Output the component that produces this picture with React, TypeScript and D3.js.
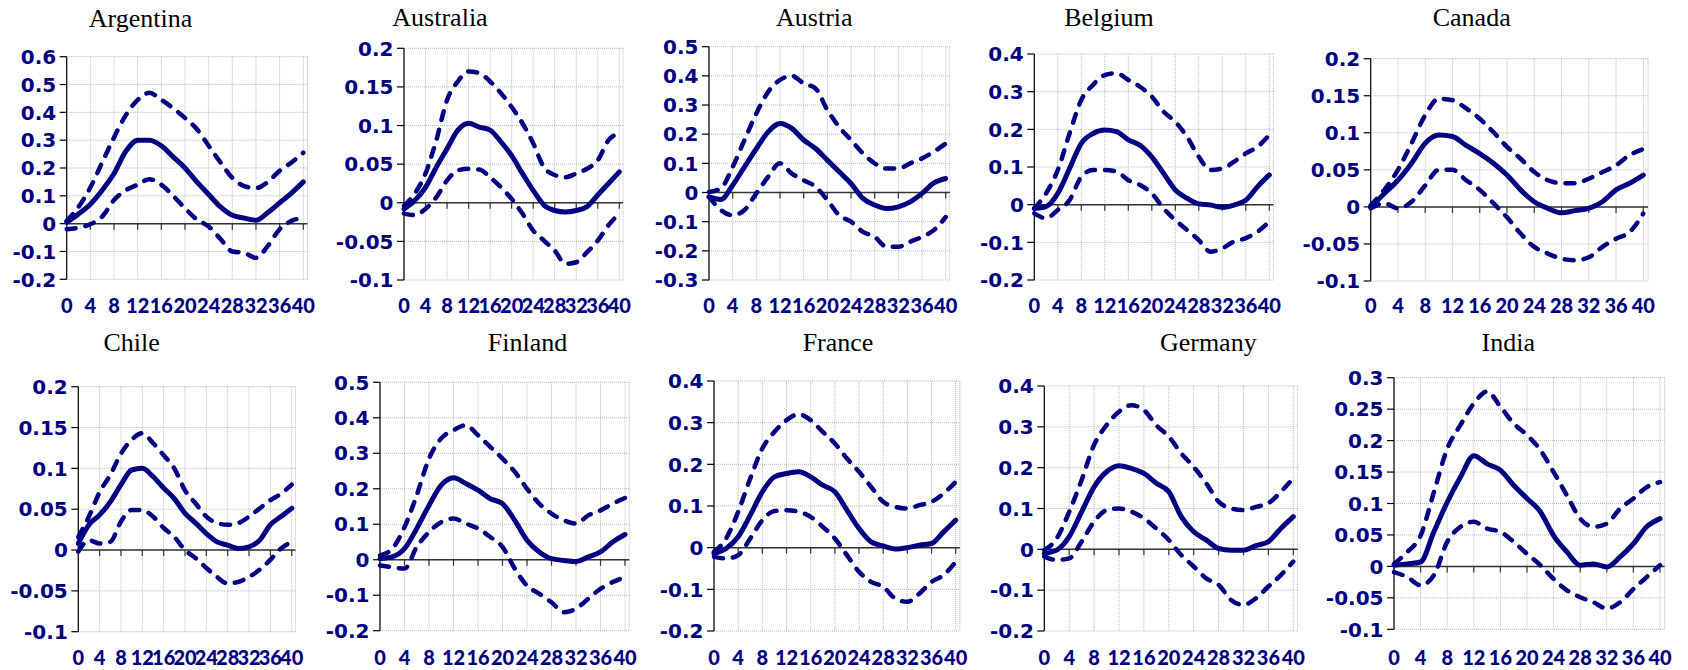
import React from 'react';
import * as d3 from 'd3';

// ---------- data ----------
const HORIZON = [0, 2, 4, 6, 8, 10, 12, 14, 16, 18, 20, 22, 24, 26, 28, 30, 32, 34, 36, 38, 40];
const X_TICKS = [0, 4, 8, 12, 16, 20, 24, 28, 32, 36, 40];

const COUNTRIES = ['Argentina', 'Australia', 'Austria', 'Belgium', 'Canada', 'Chile', 'Finland', 'France', 'Germany', 'India'];
const Y_MIN = [-0.2, -0.1, -0.3, -0.2, -0.1, -0.1, -0.2, -0.2, -0.2, -0.1];
const Y_MAX = [0.6, 0.2, 0.5, 0.4, 0.2, 0.2, 0.5, 0.4, 0.4, 0.3];
const Y_STEP = [0.1, 0.05, 0.1, 0.1, 0.05, 0.05, 0.1, 0.1, 0.1, 0.05];

const argentinaMid = [0.005, 0.035, 0.07, 0.12, 0.18, 0.26, 0.3, 0.3, 0.28, 0.24, 0.2, 0.15, 0.105, 0.06, 0.03, 0.02, 0.012, 0.04, 0.075, 0.11, 0.15];
const argentinaUp = [0.01, 0.06, 0.13, 0.22, 0.31, 0.39, 0.445, 0.47, 0.445, 0.415, 0.38, 0.34, 0.28, 0.22, 0.165, 0.135, 0.128, 0.15, 0.19, 0.22, 0.255];
const argentinaLo = [-0.02, -0.015, -0.002, 0.025, 0.085, 0.12, 0.14, 0.16, 0.14, 0.1, 0.055, 0.015, -0.01, -0.055, -0.1, -0.105, -0.123, -0.08, -0.02, 0.01, 0.02];

const australiaMid = [-0.008, 0.003, 0.02, 0.046, 0.07, 0.094, 0.103, 0.098, 0.094, 0.079, 0.061, 0.038, 0.016, -0.003, -0.01, -0.012, -0.01, -0.005, 0.01, 0.025, 0.04];
const australiaUp = [-0.004, 0.012, 0.038, 0.081, 0.133, 0.157, 0.17, 0.168, 0.157, 0.142, 0.124, 0.103, 0.077, 0.046, 0.036, 0.033, 0.038, 0.044, 0.055, 0.081, 0.09];
const australiaLo = [-0.014, -0.016, -0.008, 0.007, 0.029, 0.042, 0.044, 0.043, 0.033, 0.02, 0.005, -0.014, -0.036, -0.049, -0.062, -0.079, -0.077, -0.064, -0.049, -0.029, -0.014];

const austriaMid = [-0.015, -0.024, 0.025, 0.088, 0.15, 0.208, 0.237, 0.22, 0.18, 0.151, 0.111, 0.071, 0.031, -0.02, -0.043, -0.055, -0.049, -0.032, -0.003, 0.033, 0.048];
const austriaUp = [0.002, 0.014, 0.088, 0.18, 0.271, 0.345, 0.386, 0.4, 0.374, 0.357, 0.283, 0.225, 0.18, 0.134, 0.1, 0.082, 0.082, 0.1, 0.117, 0.14, 0.168];
const austriaLo = [-0.015, -0.06, -0.078, -0.06, -0.003, 0.054, 0.1, 0.065, 0.042, 0.02, -0.026, -0.078, -0.1, -0.135, -0.152, -0.186, -0.186, -0.169, -0.152, -0.129, -0.084];

const belgiumMid = [-0.01, -0.005, 0.03, 0.096, 0.163, 0.189, 0.198, 0.194, 0.172, 0.158, 0.127, 0.083, 0.039, 0.017, 0.002, -0.001, -0.007, -0.001, 0.012, 0.048, 0.079];
const belgiumUp = [-0.01, 0.03, 0.092, 0.189, 0.278, 0.318, 0.344, 0.349, 0.331, 0.313, 0.287, 0.247, 0.22, 0.18, 0.127, 0.092, 0.096, 0.114, 0.136, 0.154, 0.185];
const belgiumLo = [-0.023, -0.036, -0.014, 0.012, 0.074, 0.092, 0.092, 0.088, 0.065, 0.052, 0.03, -0.01, -0.041, -0.067, -0.094, -0.125, -0.116, -0.098, -0.089, -0.072, -0.045];

const canadaMid = [0.0, 0.018, 0.036, 0.059, 0.086, 0.097, 0.095, 0.083, 0.072, 0.059, 0.043, 0.023, 0.007, -0.002, -0.008, -0.005, -0.002, 0.007, 0.023, 0.032, 0.043];
const canadaUp = [0.002, 0.023, 0.05, 0.086, 0.124, 0.146, 0.144, 0.133, 0.119, 0.101, 0.081, 0.065, 0.047, 0.036, 0.032, 0.032, 0.038, 0.047, 0.056, 0.07, 0.078];
const canadaLo = [-0.002, 0.005, -0.002, 0.007, 0.029, 0.05, 0.05, 0.036, 0.023, 0.005, -0.014, -0.036, -0.054, -0.063, -0.07, -0.072, -0.068, -0.054, -0.043, -0.034, -0.009];

const chileMid = [0.008, 0.031, 0.043, 0.059, 0.08, 0.098, 0.1, 0.09, 0.076, 0.063, 0.045, 0.033, 0.02, 0.01, 0.006, 0.002, 0.004, 0.012, 0.031, 0.041, 0.051];
const chileUp = [0.016, 0.041, 0.071, 0.092, 0.118, 0.135, 0.143, 0.131, 0.116, 0.1, 0.073, 0.057, 0.041, 0.033, 0.031, 0.033, 0.041, 0.051, 0.061, 0.069, 0.08];
const chileLo = [-0.002, 0.012, 0.008, 0.01, 0.035, 0.049, 0.049, 0.041, 0.027, 0.016, 0.0, -0.01, -0.022, -0.033, -0.041, -0.039, -0.033, -0.024, -0.012, 0.002, 0.01];

const finlandMid = [0.003, 0.008, 0.031, 0.088, 0.153, 0.21, 0.231, 0.215, 0.196, 0.172, 0.158, 0.111, 0.055, 0.022, 0.003, -0.002, -0.005, 0.008, 0.022, 0.05, 0.071];
const finlandUp = [0.012, 0.031, 0.092, 0.182, 0.285, 0.342, 0.365, 0.379, 0.351, 0.318, 0.285, 0.248, 0.2, 0.158, 0.13, 0.111, 0.102, 0.125, 0.139, 0.158, 0.174];
const finlandLo = [-0.016, -0.021, -0.025, 0.036, 0.078, 0.106, 0.116, 0.102, 0.088, 0.064, 0.036, -0.025, -0.073, -0.096, -0.12, -0.148, -0.138, -0.11, -0.082, -0.063, -0.049];

const franceMid = [-0.014, -0.002, 0.026, 0.078, 0.134, 0.17, 0.178, 0.182, 0.17, 0.15, 0.134, 0.09, 0.046, 0.014, 0.004, -0.003, 0.0, 0.006, 0.01, 0.038, 0.066];
const franceUp = [-0.01, 0.022, 0.086, 0.166, 0.238, 0.278, 0.306, 0.32, 0.306, 0.278, 0.25, 0.214, 0.182, 0.146, 0.11, 0.098, 0.094, 0.102, 0.11, 0.13, 0.158];
const franceLo = [-0.022, -0.026, -0.018, 0.022, 0.066, 0.088, 0.09, 0.086, 0.074, 0.05, 0.022, -0.018, -0.058, -0.082, -0.094, -0.122, -0.13, -0.11, -0.082, -0.066, -0.034];

const germanyMid = [-0.01, -0.002, 0.031, 0.092, 0.153, 0.19, 0.205, 0.198, 0.186, 0.162, 0.141, 0.08, 0.043, 0.023, 0.002, -0.002, -0.002, 0.009, 0.019, 0.051, 0.08];
const germanyUp = [-0.002, 0.027, 0.092, 0.17, 0.256, 0.304, 0.337, 0.353, 0.341, 0.304, 0.276, 0.235, 0.202, 0.162, 0.117, 0.1, 0.096, 0.104, 0.113, 0.141, 0.174];
const germanyLo = [-0.018, -0.026, -0.022, 0.019, 0.068, 0.096, 0.1, 0.092, 0.076, 0.051, 0.023, -0.014, -0.042, -0.071, -0.087, -0.124, -0.136, -0.12, -0.091, -0.063, -0.03];

const indiaMid = [0.002, 0.004, 0.007, 0.055, 0.102, 0.142, 0.176, 0.163, 0.153, 0.129, 0.108, 0.087, 0.049, 0.023, 0.002, 0.004, -0.001, 0.015, 0.036, 0.063, 0.076];
const indiaUp = [0.004, 0.023, 0.049, 0.118, 0.187, 0.225, 0.259, 0.278, 0.254, 0.227, 0.209, 0.185, 0.15, 0.113, 0.076, 0.063, 0.068, 0.092, 0.108, 0.126, 0.134];
const indiaLo = [-0.009, -0.017, -0.03, -0.014, 0.039, 0.063, 0.071, 0.06, 0.055, 0.039, 0.02, 0.002, -0.02, -0.038, -0.049, -0.057, -0.067, -0.057, -0.036, -0.017, 0.002];

const SERIES = [
  [argentinaMid, argentinaUp, argentinaLo],
  [australiaMid, australiaUp, australiaLo],
  [austriaMid, austriaUp, austriaLo],
  [belgiumMid, belgiumUp, belgiumLo],
  [canadaMid, canadaUp, canadaLo],
  [chileMid, chileUp, chileLo],
  [finlandMid, finlandUp, finlandLo],
  [franceMid, franceUp, franceLo],
  [germanyMid, germanyUp, germanyLo],
  [indiaMid, indiaUp, indiaLo],
];

// ---------- layout (pixels) ----------
const LAYOUT = [
  { x0: 66.7, x40: 303.3, top: 56.7, bottom: 279.3, titleX: 140.5, titleY: 27, labelY: 313 },
  { x0: 404, x40: 619.3, top: 48.3, bottom: 280, titleX: 440, titleY: 26, labelY: 313 },
  { x0: 709, x40: 945.7, top: 46.7, bottom: 280, titleX: 814.3, titleY: 26, labelY: 313 },
  { x0: 1034.3, x40: 1269.3, top: 54, bottom: 280, titleX: 1109, titleY: 26, labelY: 313 },
  { x0: 1370.7, x40: 1643.3, top: 58.7, bottom: 281, titleX: 1471.7, titleY: 26, labelY: 313 },
  { x0: 78.3, x40: 291.7, top: 386.7, bottom: 631.7, titleX: 131.7, titleY: 351, labelY: 665 },
  { x0: 380, x40: 625, top: 382.3, bottom: 630.7, titleX: 527.5, titleY: 351, labelY: 665 },
  { x0: 714, x40: 955.7, top: 381, bottom: 631, titleX: 838, titleY: 351, labelY: 665 },
  { x0: 1044.3, x40: 1293.3, top: 386, bottom: 631, titleX: 1208.3, titleY: 351, labelY: 665 },
  { x0: 1394, x40: 1660, top: 377.7, bottom: 629.3, titleX: 1508.3, titleY: 351, labelY: 665 },
];

const NAVY = '#000080';
const Y_FONT = '"DejaVu Sans", sans-serif';
const X_FONT = 'Lato, "DejaVu Sans", sans-serif';
const TITLE_FONT = '"Liberation Serif", "Times New Roman", serif';

function fmt(v: number): string {
  const r = +v.toFixed(2);
  return r === 0 ? '0' : String(r);
}

function Panel({ idx }: { idx: number }) {
  const L = LAYOUT[idx];
  const x = d3.scaleLinear().domain([0, 40]).range([L.x0, L.x40]);
  const y = d3.scaleLinear().domain([Y_MIN[idx], Y_MAX[idx]]).range([L.bottom, L.top]);
  const xRight = x(40.7);
  const step = Y_STEP[idx];
  const nTicks = Math.round((Y_MAX[idx] - Y_MIN[idx]) / step);
  const yTicks = d3.range(nTicks + 1).map((i) => +(Y_MIN[idx] + i * step).toFixed(3));
  const [mid, up, lo] = SERIES[idx];
  const line = d3
    .line<number>()
    .x((_, i) => x(HORIZON[i]))
    .y((d) => y(d))
    .curve(d3.curveMonotoneX);

  return (
    <g>
      <text x={L.titleX} y={L.titleY} textAnchor="middle" fontFamily={TITLE_FONT} fontSize={26} fill="#000">
        {COUNTRIES[idx]}
      </text>
      {/* gridlines */}
      {yTicks.map((t) => (
        <line key={'gy' + t} x1={L.x0} x2={xRight} y1={y(t)} y2={y(t)} stroke="#b8b8b8" strokeWidth={1} strokeDasharray="1,1" />
      ))}
      {X_TICKS.map((t) => (
        <line key={'gx' + t} x1={x(t)} x2={x(t)} y1={L.top} y2={L.bottom} stroke="#b8b8b8" strokeWidth={1} strokeDasharray="1,1" />
      ))}
      <line x1={xRight} x2={xRight} y1={L.top} y2={L.bottom} stroke="#b8b8b8" strokeWidth={1} strokeDasharray="1,1" />
      {/* y axis */}
      <line x1={L.x0} x2={L.x0} y1={L.top} y2={L.bottom} stroke="#000" strokeWidth={1.2} />
      {yTicks.map((t) => (
        <g key={'yt' + t}>
          <line x1={L.x0 - 7} x2={L.x0} y1={y(t)} y2={y(t)} stroke="#000" strokeWidth={1.2} />
          <text
            x={L.x0 - 10.5}
            y={y(t)}
            dy="0.36em"
            textAnchor="end"
            fontFamily={Y_FONT}
            fontWeight="bold"
            fontSize={20}
            fill={NAVY}
          >
            {fmt(t)}
          </text>
        </g>
      ))}
      {/* x axis at zero */}
      <line x1={L.x0} x2={xRight} y1={y(0)} y2={y(0)} stroke="#333" strokeWidth={1.5} />
      {X_TICKS.map((t) => (
        <line key={'xt' + t} x1={x(t)} x2={x(t)} y1={y(0)} y2={y(0) + 6} stroke="#333" strokeWidth={1.2} />
      ))}
      {X_TICKS.map((t) => (
        <text
          key={'xl' + t}
          x={x(t)}
          y={L.labelY}
          textAnchor="middle"
          fontFamily={X_FONT}
          fontWeight={900}
          fontSize={20}
          fill={NAVY}
        >
          {t}
        </text>
      ))}
      {/* series */}
      <path d={line(up) || ''} fill="none" stroke={NAVY} strokeWidth={4.5} strokeDasharray="9,10" strokeLinecap="round" />
      <path d={line(lo) || ''} fill="none" stroke={NAVY} strokeWidth={4.5} strokeDasharray="9,10" strokeLinecap="round" />
      <path d={line(mid) || ''} fill="none" stroke={NAVY} strokeWidth={5} strokeLinejoin="round" strokeLinecap="round" />
    </g>
  );
}

export default function App() {
  return (
    <svg width={1688} height={670} style={{ position: 'absolute', left: 0, top: 0, background: '#fff' }}>
      <rect x={0} y={0} width={1688} height={670} fill="#fff" />
      {COUNTRIES.map((c, i) => (
        <Panel key={c} idx={i} />
      ))}
    </svg>
  );
}
